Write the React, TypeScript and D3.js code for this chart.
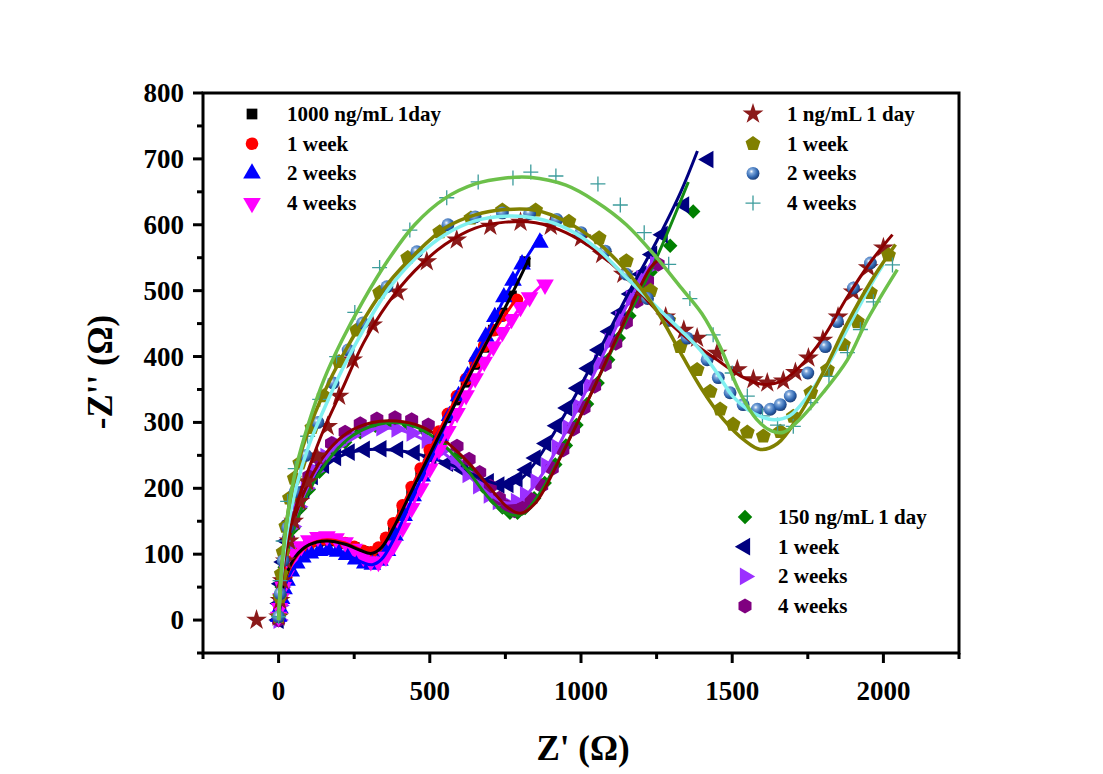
import React from 'react';
import * as d3 from 'd3';

type P = [number, number];

// ---- 1000 ng/mL group ----
const g1000Day: P[] = [[0,8],[3,20],[8,36],[15,52],[25,68],[38,83],[55,96],[75,106],[100,114],[130,119],[160,121],[190,120],[220,116],[250,110],[280,104],[305,101],[330,106],[355,120],[380,141],[410,168],[440,196],[470,224],[500,252],[530,280],[560,307],[590,334],[620,361],[650,388],[680,414],[710,440],[740,466],[770,492],[815,544]];
const g1000Wk1: P[] = [[0,6],[3,18],[8,33],[15,49],[25,65],[38,80],[55,94],[75,105],[100,114],[130,120],[160,122],[190,121],[220,117],[250,111],[280,105],[305,103],[330,110],[355,125],[380,147],[410,174],[440,202],[470,230],[500,258],[530,286],[560,313],[590,340],[620,366],[650,392],[680,416],[710,440],[740,462],[788,486]];
const g1000Wk2: P[] = [[0,5],[4,18],[10,32],[18,47],[28,60],[42,74],[60,86],[80,95],[105,101],[135,105],[165,106],[195,104],[225,99],[255,92],[285,86],[310,84],[335,90],[360,105],[385,128],[415,158],[445,188],[475,218],[505,250],[535,280],[565,310],[595,340],[625,370],[655,400],[685,430],[715,460],[745,490],[775,515],[805,540],[864,573]];
const g1000Wk4: P[] = [[0,5],[3,18],[8,33],[15,50],[25,68],[38,85],[55,100],[75,112],[100,121],[130,126],[160,127],[190,124],[220,118],[250,108],[280,96],[305,89],[330,88],[355,96],[380,113],[410,140],[440,170],[470,200],[500,230],[530,258],[560,287],[590,314],[620,341],[650,367],[680,392],[710,415],[740,437],[770,457],[800,475],[830,490],[881,509]];
const fit1000Day: P[] = [[0,0],[8,35],[25,68],[55,96],[100,114],[160,120],[220,115],[270,106],[305,101],[340,110],[380,140],[440,196],[520,270],[600,343],[680,414],[760,484],[830,550]];
const fit1000Wk1: P[] = [[0,0],[8,33],[25,65],[55,94],[100,114],[160,122],[220,117],[270,107],[305,103],[340,113],[380,146],[440,202],[520,277],[600,348],[680,416],[790,490]];
const fit1000Wk2: P[] = [[0,0],[10,32],[30,62],[60,86],[100,100],[165,106],[225,99],[280,87],[310,84],[340,92],[380,122],[440,183],[520,265],[600,345],[700,445],[800,535],[870,585]];
const fit1000Wk4: P[] = [[0,0],[10,38],[30,75],[60,103],[100,121],[160,127],[220,118],[280,97],[320,88],[360,99],[400,132],[460,190],[540,268],[620,340],[700,405],[800,475],[885,515]];

// ---- 150 ng/mL group ----
const g150Day: P[] = [[0,0],[4,25],[10,50],[20,80],[33,110],[50,140],[72,170],[100,198],[135,225],[175,250],[220,270],[270,285],[320,295],[375,299],[430,296],[485,287],[540,270],[590,248],[635,225],[675,203],[710,185],[740,171],[765,163],[790,163],[815,170],[845,185],[880,208],[915,236],[950,265],[985,296],[1020,328],[1055,360],[1090,395],[1125,428],[1160,462],[1195,495],[1230,528],[1295,568],[1371,620]];
const g150Wk1: P[] = [[0,0],[3,25],[8,55],[16,88],[27,120],[42,150],[60,175],[85,198],[113,218],[150,235],[190,247],[235,255],[285,259],[340,260],[395,259],[450,254],[505,248],[560,238],[610,228],[655,218],[695,210],[730,205],[760,206],[790,214],[820,228],[850,246],[885,268],[920,295],[955,322],[990,352],[1025,382],[1060,410],[1095,438],[1130,466],[1165,495],[1200,525],[1235,555],[1270,585],[1341,630],[1421,699]];
const g150Wk2: P[] = [[0,0],[3,22],[9,50],[18,80],[30,112],[45,142],[65,172],[90,200],[120,226],[155,248],[195,266],[240,280],[290,289],[340,292],[390,290],[440,284],[490,273],[540,258],[585,240],[625,221],[660,204],[695,190],[725,180],[755,176],[785,180],[815,190],[850,210],[885,234],[920,262],[955,292],[990,324],[1025,356],[1060,390],[1095,423],[1130,456],[1165,488],[1200,518],[1245,540]];
const g150Wk4: P[] = [[0,0],[4,28],[10,58],[20,90],[33,122],[50,155],[72,188],[100,218],[135,245],[175,268],[220,285],[270,298],[325,305],[385,307],[440,304],[495,296],[545,282],[590,264],[630,244],[665,224],[700,203],[730,185],[755,172],[780,166],[805,170],[835,183],[870,204],[905,230],[940,258],[975,290],[1010,322],[1045,355],[1080,388],[1115,420],[1150,452],[1185,484],[1220,515],[1255,540]];
const fit150Day: P[] = [[0,0],[10,55],[30,105],[60,150],[100,195],[160,240],[230,275],[300,293],[380,300],[460,292],[540,268],[620,230],[690,188],[750,163],[800,160],[860,190],[950,265],[1050,360],[1150,455],[1250,550],[1355,665]];
const fit150Wk1: P[] = [[0,0],[10,60],[30,115],[60,165],[100,205],[150,232],[220,252],[300,259],[400,257],[500,247],[600,230],[680,213],[740,205],[790,210],[850,240],[950,315],[1050,400],[1150,490],[1250,575],[1330,650],[1385,712]];
const fit150Wk2: P[] = [[0,0],[10,55],[30,110],[60,160],[100,205],[160,250],[230,278],[310,290],[390,290],[470,276],[550,252],[630,218],[700,190],[750,178],[800,182],[870,220],[960,295],[1060,390],[1160,485],[1250,555]];
const fit150Wk4: P[] = [[0,0],[10,60],[30,115],[60,165],[100,210],[160,255],[230,285],[310,300],[390,302],[470,294],[550,272],[630,238],[700,200],[760,170],[800,162],[850,178],[930,245],[1030,340],[1130,440],[1230,535],[1260,548]];

// ---- 1 ng/mL group ----
const g1Day: P[] = [[-73,0],[0,5],[5,30],[12,60],[22,90],[35,120],[50,150],[70,180],[95,210],[126,249],[162,294],[200,340],[245,395],[311,448],[394,498],[490,544],[589,577],[700,598],[800,604],[900,598],[1000,580],[1070,555],[1140,525],[1210,492],[1280,460],[1340,440],[1384,428],[1450,405],[1517,380],[1570,365],[1616,360],[1669,363],[1709,376],[1752,398],[1800,425],[1850,460],[1900,498],[1950,535],[2000,565]];
const g1Wk1: P[] = [[0,5],[4,35],[9,70],[15,103],[24,142],[36,185],[52,215],[70,238],[110,292],[150,340],[200,392],[258,440],[334,497],[427,550],[533,589],[636,610],[740,622],[850,622],[960,605],[1060,580],[1150,545],[1230,500],[1290,455],[1328,415],[1384,380],[1427,347],[1460,320],[1503,297],[1550,285],[1603,279],[1659,286],[1702,309],[1760,345],[1815,380],[1868,418],[1914,453],[1957,497],[2017,554]];
const g1Wk2: P[] = [[0,5],[5,40],[15,90],[30,140],[55,195],[90,250],[130,300],[180,360],[230,410],[278,451],[358,506],[457,559],[560,600],[650,612],[740,618],[830,617],[920,608],[1000,588],[1080,560],[1150,525],[1220,488],[1290,455],[1351,428],[1417,395],[1454,368],[1493,345],[1536,327],[1583,320],[1626,320],[1659,327],[1692,340],[1750,375],[1808,415],[1848,453],[1901,504],[1957,542]];
const g1Wk4: P[] = [[0,5],[5,60],[15,120],[30,180],[55,230],[96,279],[136,335],[192,400],[252,467],[334,535],[434,592],[556,641],[660,665],[775,671],[834,680],[917,674],[1056,662],[1130,630],[1209,588],[1290,540],[1360,488],[1437,433],[1500,375],[1550,340],[1600,310],[1650,296],[1702,294],[1760,330],[1820,370],[1881,406],[1924,441],[1967,483],[2030,539]];
const fit1Day: P[] = [[0,0],[10,60],[30,120],[60,175],[100,230],[150,290],[210,350],[280,420],[360,480],[450,530],[550,570],[650,595],[750,604],[850,603],[950,588],[1050,560],[1150,520],[1250,470],[1350,428],[1450,395],[1530,370],[1600,358],[1660,362],[1720,383],[1800,428],[1880,490],[1960,545],[2030,585]];
const fit1Wk1: P[] = [[0,0],[10,80],[30,160],[60,230],[100,290],[150,345],[210,400],[280,455],[360,510],[450,555],[550,595],[650,615],[750,623],[850,622],[950,605],[1050,575],[1150,530],[1250,470],[1330,405],[1400,350],[1470,305],[1540,273],[1593,259],[1650,268],[1720,310],[1800,375],[1880,450],[1960,515],[2040,570]];
const fit1Wk2: P[] = [[0,0],[10,70],[30,140],[60,205],[100,265],[150,320],[210,380],[280,440],[360,500],[450,548],[550,585],[650,606],[750,613],[850,610],[950,595],[1050,565],[1150,520],[1250,475],[1330,440],[1394,410],[1450,375],[1503,339],[1550,320],[1593,309],[1640,304],[1690,310],[1750,340],[1820,390],[1890,450],[1960,510],[2000,540]];
const fit1Wk4: P[] = [[0,0],[10,80],[30,160],[60,235],[100,300],[150,365],[210,425],[280,485],[360,545],[450,600],[550,640],[650,662],[750,671],[830,672],[950,660],[1050,635],[1150,600],[1250,550],[1330,505],[1400,465],[1460,415],[1526,345],[1580,305],[1630,287],[1670,285],[1720,303],[1800,345],[1881,395],[1947,456],[2046,532]];

const xMajor = [0, 500, 1000, 1500, 2000];
const xMinor = [-250, 250, 750, 1250, 1750, 2250];
const yMajor = [0, 100, 200, 300, 400, 500, 600, 700, 800];
const yMinor = [-50, 50, 150, 250, 350, 450, 550, 650, 750];

const legendA = ['1000 ng/mL 1day', '1 week', '2 weeks', '4 weeks'];
const legendB = ['1 ng/mL 1 day', '1 week', '2 weeks', '4 weeks'];
const legendC = ['150 ng/mL 1 day', '1 week', '2 weeks', '4 weeks'];

const W = 1103, H = 774;
const x = d3.scaleLinear().domain([-250, 2250]).range([203, 959]);
const y = d3.scaleLinear().domain([-50, 800]).range([653, 93]);
const font = '"Liberation Serif", "Times New Roman", serif';

const line = d3.line<P>().x(d => x(d[0])).y(d => y(d[1])).curve(d3.curveCatmullRom.alpha(0.5));

function poly(n: number, r: number, rot: number) {
  const pts = d3.range(n).map(i => {
    const a = rot + (i * 2 * Math.PI) / n;
    return [r * Math.cos(a), r * Math.sin(a)];
  });
  return 'M' + pts.map(p => p[0].toFixed(2) + ',' + p[1].toFixed(2)).join('L') + 'Z';
}

const shapes: Record<string, { d: string; rot: number; stroke?: boolean }> = {
  square: { d: d3.symbol(d3.symbolSquare, 115)()!, rot: 0 },
  circle: { d: d3.symbol(d3.symbolCircle, 125)()!, rot: 0 },
  up: { d: d3.symbol(d3.symbolTriangle, 135)()!, rot: 0 },
  down: { d: d3.symbol(d3.symbolTriangle, 135)()!, rot: 180 },
  left: { d: d3.symbol(d3.symbolTriangle, 135)()!, rot: -90 },
  right: { d: d3.symbol(d3.symbolTriangle, 135)()!, rot: 90 },
  diamond: { d: d3.symbol(d3.symbolSquare, 105)()!, rot: 45 },
  hexagon: { d: poly(6, 7.5, Math.PI / 6), rot: 0 },
  star: { d: d3.symbol(d3.symbolStar, 135)()!, rot: 0 },
  pentagon: { d: poly(5, 7.8, -Math.PI / 2), rot: 0 },
  sphere: { d: d3.symbol(d3.symbolCircle, 130)()!, rot: 0 },
  plus: { d: 'M-7.5,0H7.5M0,-7.5V7.5', rot: 0, stroke: true },
};

type Series = { data: P[]; shape: string; color: string };
type Fit = { data: P[]; color: string; width: number };

const markers150: Series[] = [
  { data: g150Day, shape: 'diamond', color: '#008000' },
  { data: g150Wk1, shape: 'left', color: '#000080' },
  { data: g150Wk2, shape: 'right', color: '#9b30ff' },
  { data: g150Wk4, shape: 'hexagon', color: '#800080' },
];
const fits150: Fit[] = [
  { data: fit150Wk1, color: '#000080', width: 3 },
  { data: fit150Wk2, color: '#9b30ff', width: 3 },
  { data: fit150Day, color: '#138a13', width: 3 },
  { data: fit150Wk4, color: '#8b0000', width: 3 },
];
const markers1000: Series[] = [
  { data: g1000Day, shape: 'square', color: '#000000' },
  { data: g1000Wk1, shape: 'circle', color: '#ff0000' },
  { data: g1000Wk2, shape: 'up', color: '#0000ff' },
  { data: g1000Wk4, shape: 'down', color: '#ff00ff' },
];
const fits1000: Fit[] = [
  { data: fit1000Wk4, color: '#ff00ff', width: 3 },
  { data: fit1000Wk2, color: '#0000ff', width: 3 },
  { data: fit1000Wk1, color: '#ff0000', width: 3 },
  { data: fit1000Day, color: '#000000', width: 3 },
];
const markers1: Series[] = [
  { data: g1Day, shape: 'star', color: '#8b1a1a' },
  { data: g1Wk1, shape: 'pentagon', color: '#808000' },
  { data: g1Wk2, shape: 'sphere', color: '#2f66b0' },
  { data: g1Wk4, shape: 'plus', color: '#3c9c9c' },
];
const fits1: Fit[] = [
  { data: fit1Day, color: '#8b0000', width: 3 },
  { data: fit1Wk2, color: '#80f0f0', width: 3.5 },
  { data: fit1Wk1, color: '#808000', width: 3.5 },
  { data: fit1Wk4, color: '#6cc04a', width: 3.5 },
];

function Marker({ shape, color, cx, cy }: { shape: string; color: string; cx: number; cy: number }) {
  const s = shapes[shape];
  const t = `translate(${cx},${cy}) rotate(${s.rot})`;
  if (s.stroke) return <path d={s.d} transform={t} stroke={color} strokeWidth={1.3} fill="none" />;
  const fill = shape === 'sphere' ? 'url(#sphereGrad)' : color;
  return <path d={s.d} transform={t} fill={fill} />;
}

function Group({ markers, fits }: { markers: Series[]; fits: Fit[] }) {
  return (
    <g>
      {markers.map((s, i) => (
        <g key={'m' + i}>
          {s.data.map((d, j) => (
            <Marker key={j} shape={s.shape} color={s.color} cx={x(d[0])} cy={y(d[1])} />
          ))}
        </g>
      ))}
      {fits.map((f, i) => (
        <path key={'f' + i} d={line(f.data)!} fill="none" stroke={f.color} strokeWidth={f.width} strokeLinejoin="round" />
      ))}
    </g>
  );
}

function Legend({ labels, markers, mx, tx, y0 }: { labels: string[]; markers: Series[]; mx: number; tx: number; y0: number }) {
  return (
    <g>
      {labels.map((l, i) => (
        <g key={i}>
          <Marker shape={markers[i].shape} color={markers[i].color} cx={mx} cy={y0 + i * 29.7} />
          <text x={tx} y={y0 + i * 29.7 + 7} fontFamily={font} fontWeight="bold" fontSize={21} fill="#000">{l}</text>
        </g>
      ))}
    </g>
  );
}

export default function App() {
  return (
    <svg width={W} height={H} style={{ position: 'absolute', left: 0, top: 0, background: '#fff' }}>
      <defs>
        <radialGradient id="sphereGrad" cx="0.38" cy="0.35" r="0.65">
          <stop offset="0" stopColor="#ffffff" />
          <stop offset="0.25" stopColor="#7fa8dc" />
          <stop offset="0.7" stopColor="#2f66b0" />
          <stop offset="1" stopColor="#1c3f7a" />
        </radialGradient>
        <clipPath id="plotClip">
          <rect x={203} y={93} width={756} height={560} />
        </clipPath>
      </defs>
      <rect x={0} y={0} width={W} height={H} fill="#fff" />
      <g clipPath="url(#plotClip)">
        <Group markers={markers150} fits={fits150} />
        <Group markers={markers1000} fits={fits1000} />
        <Group markers={markers1} fits={fits1} />
      </g>
      {/* frame */}
      <rect x={203} y={93} width={756} height={560} fill="none" stroke="#000" strokeWidth={3} />
      {/* x ticks */}
      {xMajor.map(v => (
        <g key={'xm' + v}>
          <line x1={x(v)} x2={x(v)} y1={653} y2={663} stroke="#000" strokeWidth={3} />
          <text x={x(v)} y={700} textAnchor="middle" fontFamily={font} fontWeight="bold" fontSize={27}>{v}</text>
        </g>
      ))}
      {xMinor.map(v => (
        <line key={'xn' + v} x1={x(v)} x2={x(v)} y1={653} y2={659} stroke="#000" strokeWidth={3} />
      ))}
      {/* y ticks */}
      {yMajor.map(v => (
        <g key={'ym' + v}>
          <line x1={193} x2={203} y1={y(v)} y2={y(v)} stroke="#000" strokeWidth={3} />
          <text x={184} y={y(v) + 9} textAnchor="end" fontFamily={font} fontWeight="bold" fontSize={27}>{v}</text>
        </g>
      ))}
      {yMinor.map(v => (
        <line key={'yn' + v} x1={197} x2={203} y1={y(v)} y2={y(v)} stroke="#000" strokeWidth={3} />
      ))}
      {/* axis titles */}
      <text x={583} y={760} textAnchor="middle" fontFamily={font} fontWeight="bold" fontSize={35}>Z' (Ω)</text>
      <text transform="translate(112,372) rotate(-90)" textAnchor="middle" fontFamily={font} fontWeight="bold" fontSize={35}>-Z'' (Ω)</text>
      {/* legends */}
      <Legend labels={legendA} markers={markers1000} mx={252} tx={287} y0={114} />
      <Legend labels={legendB} markers={markers1} mx={753} tx={787} y0={114} />
      <Legend labels={legendC} markers={markers150} mx={745} tx={778} y0={517} />
    </svg>
  );
}
